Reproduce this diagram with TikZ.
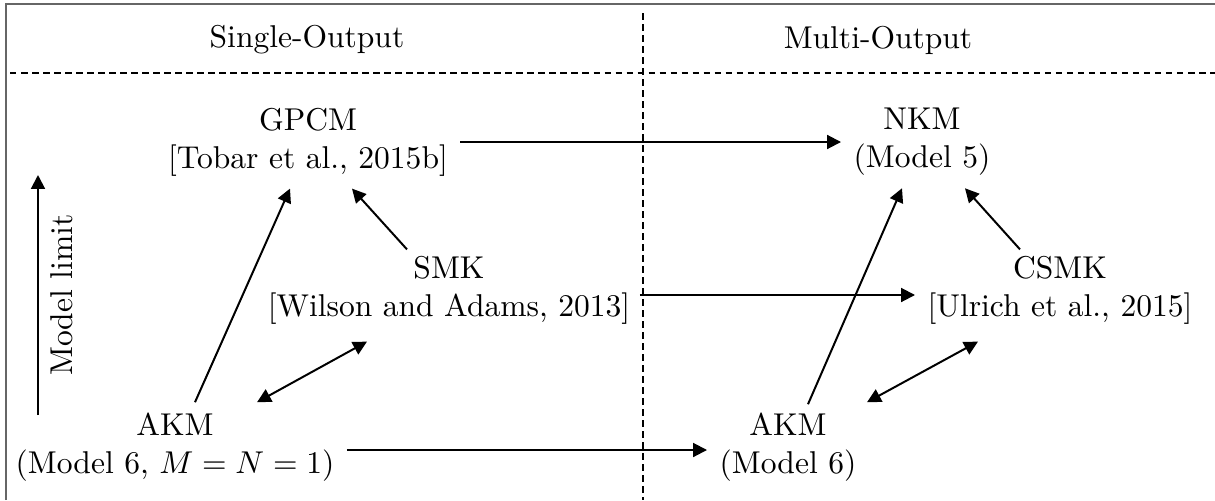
\documentclass[tikz,border=0pt]{standalone}
\usetikzlibrary{arrows.meta,calc}
\tikzset{
  box/.style={align=center, inner sep=3.8pt},
  tip/.tip={Triangle[length=4.4pt,width=4.4pt]},
  arr/.style={line width=0.63pt, -tip},
  darr/.style={line width=0.63pt, tip-tip},
  sep/.style={line width=0.63pt, dash pattern=on 2.06pt off 1.43pt},
  frame/.style={line width=0.4pt, draw=black!60}
}
\begin{document}
\begin{tikzpicture}[x=0.317pt, y=-0.317pt]
\useasboundingbox (0,0) rectangle (1215,500);

% outer frame (left and top edges)
\draw[frame] (6,500) -- (6,4) -- (1215,4);

% column separators
\draw[sep] (10,73) -- (1215,73);
\draw[sep] (643,13) -- (643,500);

% headers
\node[box] (hs) at (307,40) {Single-Output};
\node[box] (hm) at (878,40) {Multi-Output};

% models
\node[box] (gpcm) at (308,142) {GPCM\\{}[Tobar et al., 2015b]};
\node[box] (nkm)  at (922,142) {NKM\\(Model 5)};
\node[box] (smk)  at (449,290) {SMK\\{}[Wilson and Adams, 2013]};
\node[box] (csmk) at (1060,290) {CSMK\\{}[Ulrich et al., 2015]};
\node[box] (akmA) at (175,447) {AKM\\(Model 6, $M=N=1$)};
\node[box] (akmB) at (788,447) {AKM\\(Model 6)};

% single-output to multi-output
\draw[arr] (gpcm.east) -- (nkm.west);
\draw[arr] ($(smk.east)+(-3,5)$) -- ($(csmk.west)+(0,5)$);
\draw[arr] ($(akmA.east)+(0,3)$) -- ($(akmB.west)+(0,3)$);

% model limits, single output
\draw[arr] ($(akmA.north)+(20,2)$) -- ($(gpcm.south)+(-18,0)$);
\draw[arr] ($(smk.north)+(-42,6)$) -- ($(gpcm.south)+(44,0)$);
\draw[darr] ($(akmA.north)+(82,2)$) -- ($(smk.south)+(-82,5)$);

% model limits, multi output
\draw[arr] ($(akmB.north)+(20,4)$) -- ($(nkm.south)+(-20,0)$);
\draw[arr] ($(csmk.north)+(-40,6)$) -- ($(nkm.south)+(43,0)$);
\draw[darr] ($(akmB.north)+(79,2)$) -- ($(csmk.south)+(-82,5)$);

% legend arrow
\coordinate (ml0) at (38,415);
\coordinate (ml1) at (38,175);
\draw[arr] (ml0) -- (ml1);
\node[box, rotate=90] (mlt) at (62,295) {Model limit};
\end{tikzpicture}
\end{document}
